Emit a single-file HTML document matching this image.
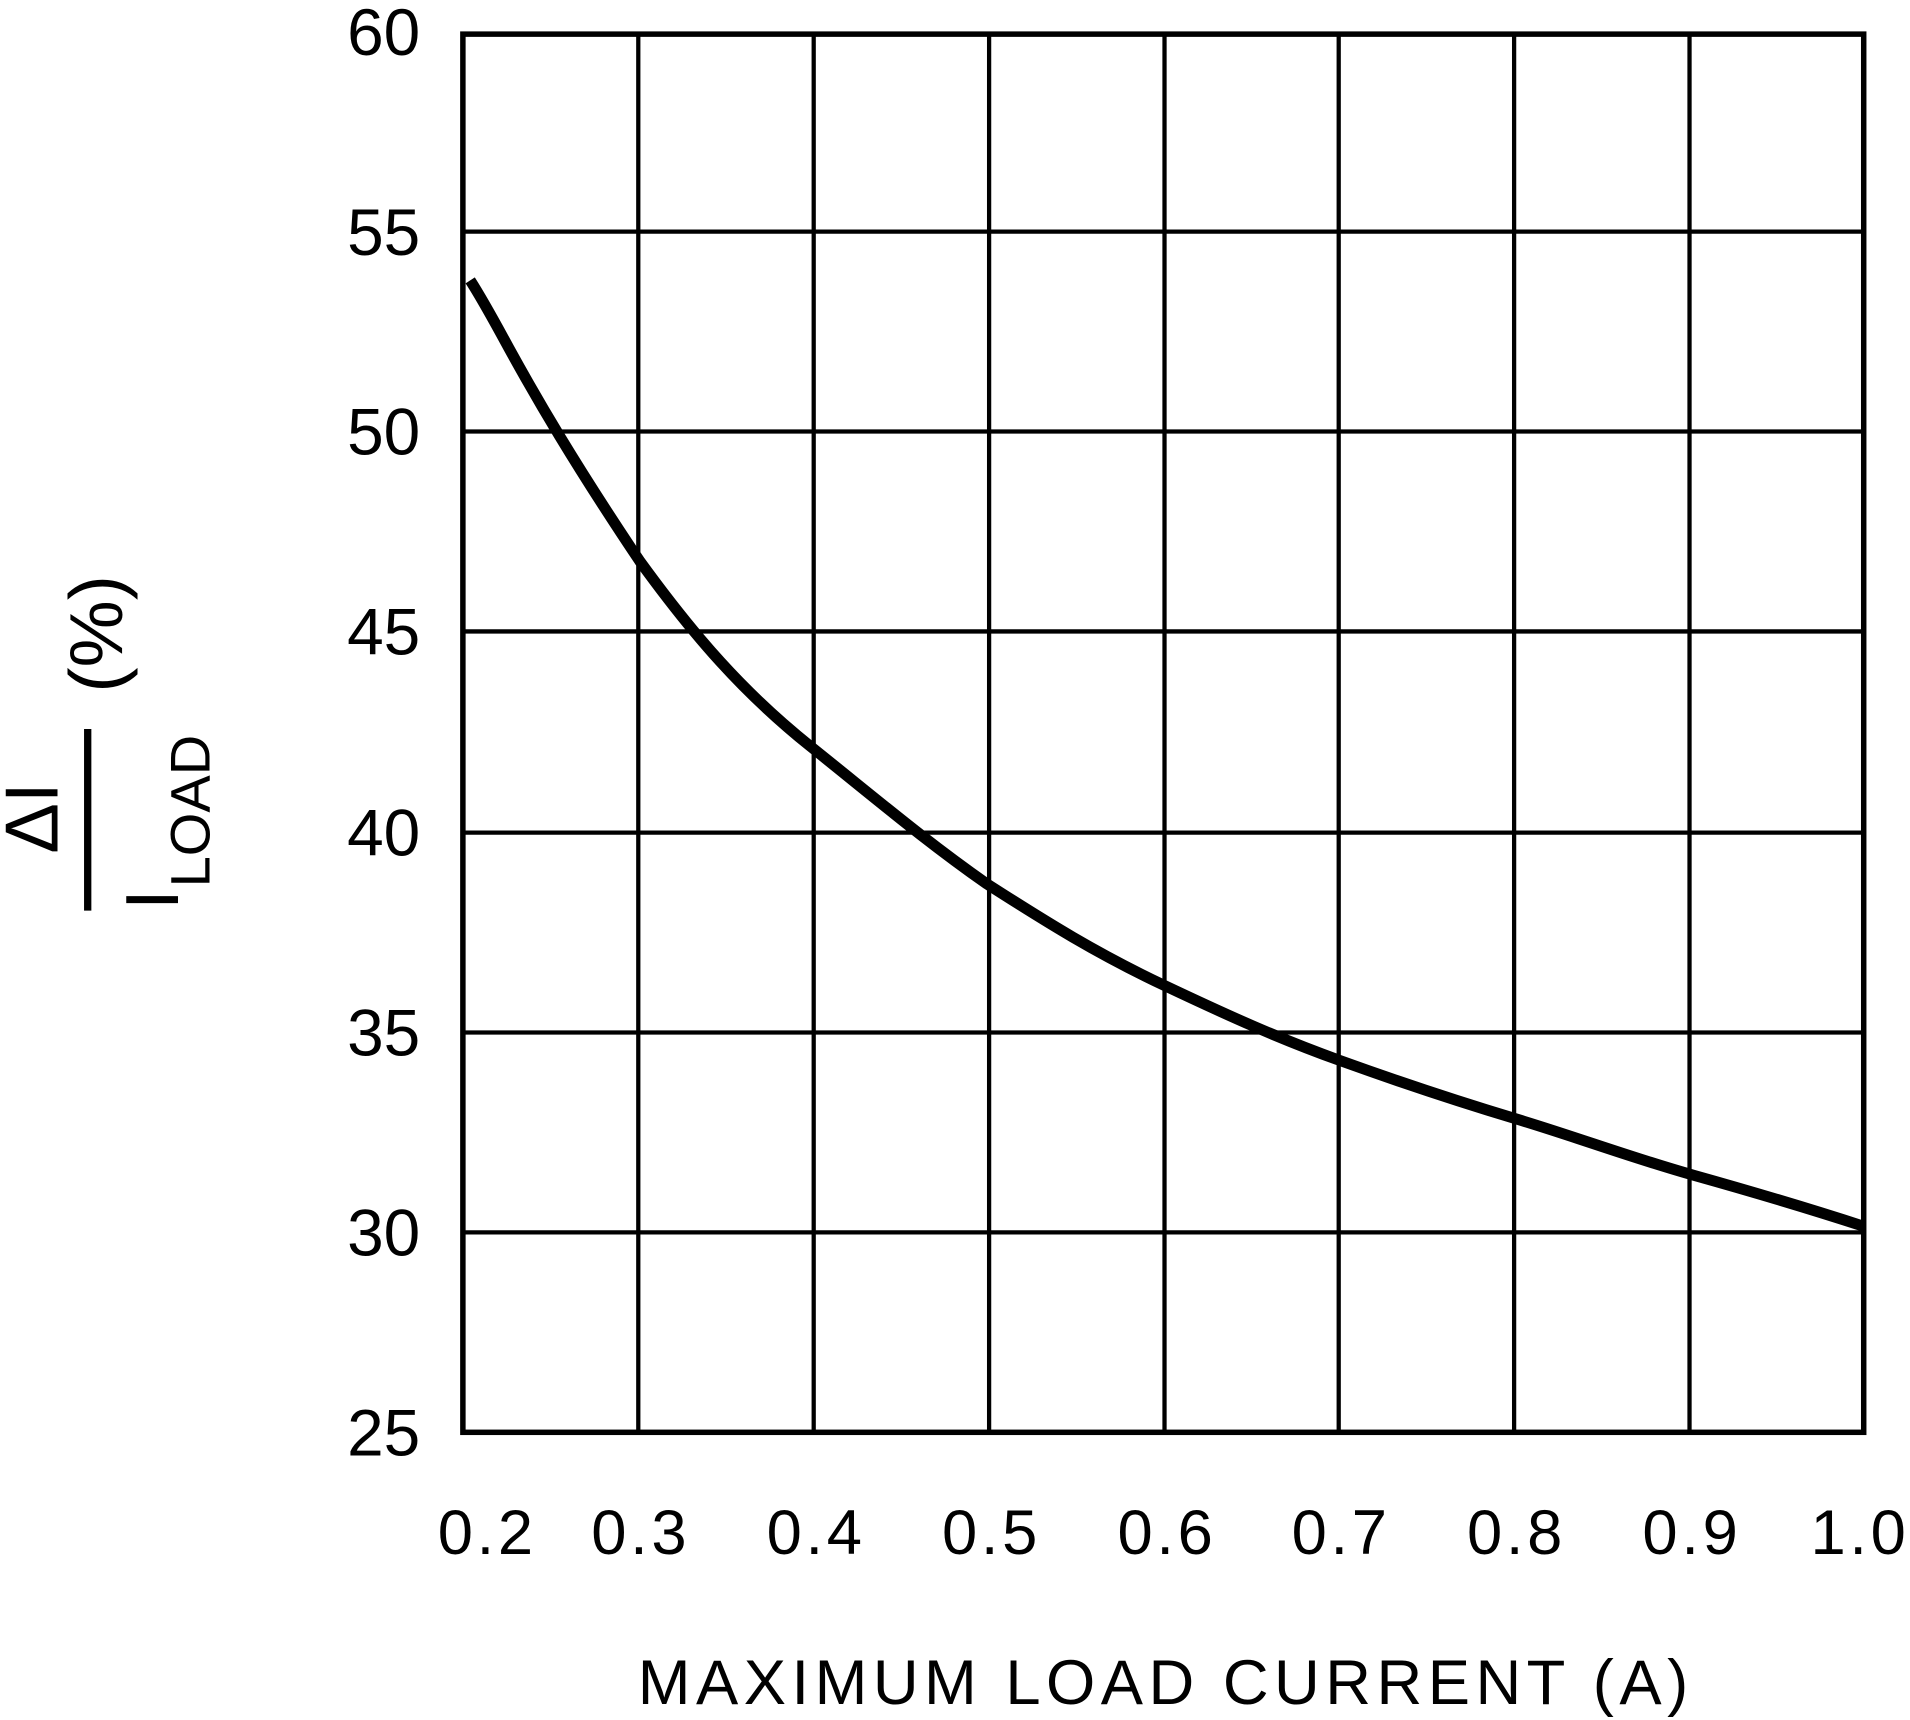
<!DOCTYPE html>
<html><head><meta charset="utf-8"><style>html,body{margin:0;padding:0;background:#fff}svg{display:block}</style></head>
<body>
<svg width="1910" height="1720" viewBox="0 0 1568 1411" preserveAspectRatio="none" xmlns="http://www.w3.org/2000/svg" font-family="Liberation Sans, sans-serif">
<rect width="1568" height="1411" fill="#fff"/>
<g stroke="#000" stroke-width="3.5" fill="none">
<line x1="524" y1="28" x2="524" y2="1175"/><line x1="668" y1="28" x2="668" y2="1175"/>
<line x1="812" y1="28" x2="812" y2="1175"/><line x1="956" y1="28" x2="956" y2="1175"/>
<line x1="1099" y1="28" x2="1099" y2="1175"/><line x1="1243" y1="28" x2="1243" y2="1175"/>
<line x1="1387" y1="28" x2="1387" y2="1175"/>
<line x1="380" y1="190" x2="1530" y2="190"/><line x1="380" y1="354" x2="1530" y2="354"/>
<line x1="380" y1="518" x2="1530" y2="518"/><line x1="380" y1="683" x2="1530" y2="683"/>
<line x1="380" y1="847" x2="1530" y2="847"/><line x1="380" y1="1011" x2="1530" y2="1011"/>
<rect x="380" y="28" width="1150" height="1147" stroke-width="4.5"/>
</g>
<path d="M386,230 C395,244 405,262 418,286 C440,326 470,378 525,460 C570,522 610,568 665,612 C720,656 760,690 810,725 C860,757 900,782 955,808 C1010,834 1050,852 1100,870 C1150,888 1195,903 1245,918 C1295,933 1340,950 1390,964 C1440,978 1490,993 1530,1006" stroke="#000" stroke-width="9" fill="none"/>
<g font-size="54" text-anchor="end">
<text x="345" y="45">60</text><text x="345" y="209">55</text><text x="345" y="373">50</text>
<text x="345" y="537">45</text><text x="345" y="702">40</text><text x="345" y="866">35</text>
<text x="345" y="1030">30</text><text x="345" y="1194">25</text>
</g>
<g font-size="52" text-anchor="middle" letter-spacing="3">
<text x="400" y="1275">0.2</text><text x="526" y="1275">0.3</text><text x="670" y="1275">0.4</text>
<text x="814" y="1275">0.5</text><text x="958" y="1275">0.6</text><text x="1101" y="1275">0.7</text>
<text x="1245" y="1275">0.8</text><text x="1389" y="1275">0.9</text><text x="1527" y="1275">1.0</text>
</g>
<text x="957" y="1398" font-size="52" text-anchor="middle" letter-spacing="4.5">MAXIMUM LOAD CURRENT (A)</text>
<line x1="72" y1="598" x2="72" y2="747" stroke="#000" stroke-width="6"/>
<text transform="translate(47,671) rotate(-90)" font-size="62" text-anchor="middle">ΔI</text>
<text transform="translate(146,738) rotate(-90)" font-size="62" text-anchor="middle">I</text>
<text transform="translate(172,728) rotate(-90)" font-size="46" text-anchor="start">LOAD</text>
<text transform="translate(100,520) rotate(-90)" font-size="62" text-anchor="middle">(%)</text>
</svg>
</body></html>
